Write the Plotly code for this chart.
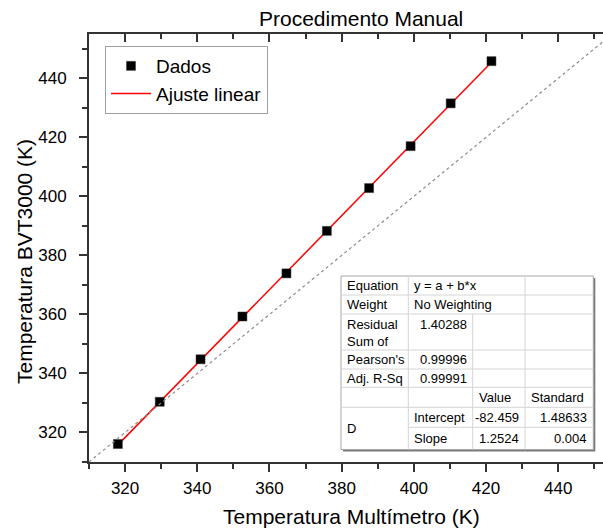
import plotly.graph_objects as go

# Measured temperatures (K)
multimetro = [318.0, 329.6, 340.9, 352.5, 364.7, 375.9, 387.6, 399.1, 410.2, 421.5]
bvt3000 = [316.1, 330.4, 344.8, 359.3, 373.9, 388.3, 402.8, 417.0, 431.5, 445.8]

# Linear fit results y = a + b*x
intercept = -82.459
slope = 1.2524
intercept_se = "1.48633"
slope_se = "0.004"
rss = "1.40288"
pearson_r = "0.99996"
adj_r2 = "0.99991"

x_ticks = [320, 340, 360, 380, 400, 420, 440]
y_ticks = [320, 340, 360, 380, 400, 420, 440]
minor_ticks = [310, 330, 350, 370, 390, 410, 430, 450]
x_range = [310, 452.4]
y_range = [310, 455]

FONT = "Arial, Liberation Sans, sans-serif"
AXIS_COLOR = "#333333"

# plot area in pixels
L, T, W, H = 89, 34, 514, 428


def px(x):
    return (x - L) / W


def py(y):
    return (T + H - y) / H


fit_x = [min(multimetro), max(multimetro)]
fit_y = [intercept + slope * v for v in fit_x]

fig = go.Figure()

# identity line y = x
fig.add_trace(go.Scatter(
    x=x_range, y=x_range, mode="lines", xaxis="x2",
    line=dict(color="#8c8c8c", width=1.2, dash="dot"),
    showlegend=False, hoverinfo="skip",
))
fig.add_trace(go.Scatter(
    x=fit_x, y=fit_y, mode="lines", name="Ajuste linear",
    line=dict(color="#ff0000", width=1.5),
))
fig.add_trace(go.Scatter(
    x=multimetro, y=bvt3000, mode="markers", name="Dados",
    marker=dict(symbol="square", size=9, color="black",
                line=dict(color="#333333", width=0.5)),
))

axis_common = dict(
    showgrid=False, zeroline=False, showline=True,
    linecolor=AXIS_COLOR, linewidth=2,
    tickcolor=AXIS_COLOR, tickwidth=1.5, ticklen=8,
    tickfont=dict(family=FONT, size=17, color="black"),
)

fig.update_layout(
    width=603, height=530,
    margin=dict(l=L, r=0, t=T, b=530 - T - H),
    paper_bgcolor="white", plot_bgcolor="white",
    font=dict(family=FONT, color="black"),
    xaxis=dict(
        **axis_common, range=x_range, tickvals=x_ticks, ticks="outside",
        ticklabelstandoff=2,
        minor=dict(tickvals=minor_ticks, ticks="outside", ticklen=5,
                   tickcolor=AXIS_COLOR, tickwidth=1.5),
    ),
    xaxis2=dict(
        **axis_common, range=x_range, tickvals=x_ticks, ticks="inside",
        overlaying="x", side="top", anchor="y", showticklabels=False,
        minor=dict(tickvals=minor_ticks, ticks="inside", ticklen=5,
                   tickcolor=AXIS_COLOR, tickwidth=1.5),
    ),
    yaxis=dict(
        **axis_common, range=y_range, tickvals=y_ticks, ticks="outside",
        ticklabelstandoff=9,
        minor=dict(tickvals=minor_ticks, ticks="outside", ticklen=5,
                   tickcolor=AXIS_COLOR, tickwidth=1.5),
    ),
    legend=dict(
        x=px(105), y=py(46), xanchor="left", yanchor="top",
        bgcolor="white", bordercolor="#a0a0a0", borderwidth=1,
        font=dict(family=FONT, size=19, color="black"),
        traceorder="reversed", itemwidth=40,
    ),
    showlegend=True,
)

annotations = [
    dict(text="Procedimento Manual", x=px(361), y=py(19),
         font=dict(size=21)),
    dict(text="Temperatura Multímetro (K)", x=px(351), y=py(516),
         font=dict(size=21)),
    dict(text="Temperatura BVT3000 (K)", x=px(24), y=py(262),
         font=dict(size=21), textangle=-90),
]
for a in annotations:
    a.update(xref="paper", yref="paper", showarrow=False,
             xanchor="center", yanchor="middle")

# statistics table
cols = [341, 408.3, 472.7, 525, 593.3]
rows = [276, 295, 314, 350, 369, 387.3, 407.3, 427.3, 449.5]
GRID = "#d4d4d4"
shapes = [
    dict(type="rect", x0=px(cols[0] + 2), x1=px(cols[-1] + 2),
         y0=py(rows[0] + 2), y1=py(rows[-1] + 2),
         line=dict(width=0), fillcolor="#7a7a7a"),
    dict(type="rect", x0=px(cols[0]), x1=px(cols[-1]),
         y0=py(rows[0]), y1=py(rows[-1]),
         line=dict(color="#a8a8a8", width=1), fillcolor="white"),
]


def hline(y, x0, x1):
    shapes.append(dict(type="line", x0=px(x0), x1=px(x1), y0=py(y), y1=py(y),
                       line=dict(color=GRID, width=1)))


def vline(x, y0, y1):
    shapes.append(dict(type="line", x0=px(x), x1=px(x), y0=py(y0), y1=py(y1),
                       line=dict(color=GRID, width=1)))


for r in rows[1:7]:
    hline(r, cols[0], cols[-1])
hline(rows[7], cols[1], cols[-1])
vline(cols[1], rows[0], rows[-1])
vline(cols[2], rows[2], rows[-1])
vline(cols[3], rows[0], rows[-1])

for s in shapes:
    s.update(xref="paper", yref="paper", layer="above")


def cell(text, c, r, align="left", r_span=1, valign="middle", y_off=0):
    if align == "left":
        x = cols[c] + 4
        xa = "left"
    else:
        x = cols[c + 1] - 4
        xa = "right"
    if valign == "middle":
        y = (rows[r] + rows[r + r_span]) / 2
        ya = "middle"
    else:
        y = rows[r] + y_off
        ya = "top"
    annotations.append(dict(
        text=text, x=px(x), y=py(y), xref="paper", yref="paper",
        xanchor=xa, yanchor=ya, showarrow=False, align="left",
        font=dict(family=FONT, size=13, color="black"),
    ))


cell("Equation", 0, 0)
cell("y = a + b*x", 1, 0)
cell("Weight", 0, 1)
cell("No Weighting", 1, 1)
cell("Residual<br>Sum of", 0, 2, valign="top", y_off=1)
cell(rss, 1, 2, align="right", valign="top", y_off=1)
cell("Pearson's", 0, 3)
cell(pearson_r, 1, 3, align="right")
cell("Adj. R-Sq", 0, 4)
cell(adj_r2, 1, 4, align="right")
cell("Value", 2, 5)
cell("Standard", 3, 5)
cell("D", 0, 6, r_span=2)
cell("Intercept", 1, 6)
cell(f"{intercept:.3f}", 2, 6, align="right")
cell(intercept_se, 3, 6, align="right")
cell("Slope", 1, 7)
cell(f"{slope:.4f}", 2, 7, align="right")
cell(slope_se, 3, 7, align="right")

fig.update_layout(annotations=annotations, shapes=shapes)

fig.write_html("out.html")
